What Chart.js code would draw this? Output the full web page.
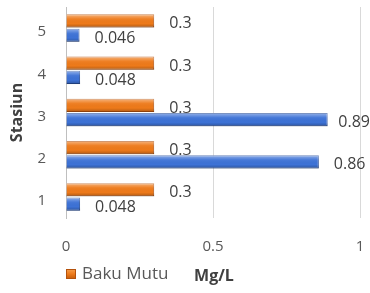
<!DOCTYPE html>
<html>
<head>
<meta charset="utf-8">
<script src="https://cdn.jsdelivr.net/npm/chart.js@4.4.1/dist/chart.umd.min.js"></script>
<style>
  html, body { margin: 0; padding: 0; background: #fff; }
  #wrap { width: 370px; height: 293px; }
</style>
</head>
<body>
<div id="wrap"><canvas id="grafik"></canvas></div>
<script>
// Data
const stasiun = ['1', '2', '3', '4', '5'];
const nilaiSampel = [0.048, 0.86, 0.89, 0.048, 0.046];
const bakuMutu = [0.3, 0.3, 0.3, 0.3, 0.3];
const tickX = [0, 0.5, 1];

const fonte = '"Open Sans", "DejaVu Sans", sans-serif';

// efek kilap (mirip gaya Excel) di atas batang
const kilap = {
  id: 'kilap',
  afterDatasetsDraw(chart) {
    const ctx = chart.ctx;
    ctx.save();
    chart.data.datasets.forEach((ds, i) => {
      chart.getDatasetMeta(i).data.forEach(el => {
        const { x, y, base, height } = el.getProps(['x', 'y', 'base', 'height'], true);
        const top = y - height / 2;
        const g = ctx.createLinearGradient(0, top, 0, top + height);
        g.addColorStop(0, 'rgba(255,255,255,0.45)');
        g.addColorStop(0.35, 'rgba(255,255,255,0.05)');
        g.addColorStop(0.7, 'rgba(0,0,0,0)');
        g.addColorStop(1, 'rgba(0,0,0,0.25)');
        ctx.fillStyle = g;
        ctx.fillRect(base, top, x - base, height);
      });
    });
    ctx.restore();
  }
};

// label nilai di ujung batang
const labelNilai = {
  id: 'labelNilai',
  afterDatasetsDraw(chart) {
    const ctx = chart.ctx;
    ctx.save();
    ctx.font = '16px ' + fonte;
    ctx.fillStyle = '#404040';
    ctx.textBaseline = 'middle';
    chart.data.datasets.forEach((ds, i) => {
      chart.getDatasetMeta(i).data.forEach((el, j) => {
        const txt = String(ds.data[j]);
        const w = ctx.measureText(txt).width;
        const x = Math.min(el.x + 15, chart.width - w);
        ctx.fillText(txt, x, el.y + 3);
      });
    });
    ctx.restore();
  }
};

// legenda + judul sumbu X di baris bawah
const bawah = {
  id: 'bawah',
  afterDraw(chart) {
    const ctx = chart.ctx;
    const y = 274;
    ctx.save();
    const g = ctx.createLinearGradient(0, y - 5, 0, y + 5);
    g.addColorStop(0, '#F5A050');
    g.addColorStop(0.5, '#EE7A1A');
    g.addColorStop(1, '#C05A0A');
    ctx.fillStyle = g;
    ctx.strokeStyle = '#B4520C';
    ctx.fillRect(66, y - 5, 10, 10);
    ctx.strokeRect(66.5, y - 4.5, 9, 9);
    ctx.font = '17px ' + fonte;
    ctx.fillStyle = '#595959';
    ctx.textBaseline = 'middle';
    ctx.fillText(chart.data.datasets[0].label, 82, y);
    ctx.font = 'bold 16px ' + fonte;
    ctx.fillStyle = '#404040';
    ctx.textAlign = 'center';
    ctx.fillText('Mg/L', 214, y + 2);
    ctx.restore();
  }
};

new Chart(document.querySelector('#grafik'), {
  type: 'bar',
  data: {
    labels: stasiun,
    datasets: [{
      label: 'Baku Mutu',
      data: bakuMutu,
      backgroundColor: '#EE7A1A',
      borderColor: '#B4520C',
      borderWidth: 1
    }, {
      label: '',
      data: nilaiSampel,
      backgroundColor: '#3D72D6',
      borderColor: '#284F9C',
      borderWidth: 1
    }]
  },
  options: {
    indexAxis: 'y',
    responsive: true,
    maintainAspectRatio: false,
    animation: false,
    layout: { padding: { top: 7, right: 10, bottom: 35, left: 0 } },
    datasets: { bar: { categoryPercentage: 0.68, barPercentage: 0.92 } },
    plugins: { legend: { display: false }, tooltip: { enabled: false } },
    scales: {
      x: {
        min: 0,
        max: 1,
        afterBuildTicks: s => { s.ticks = tickX.map(v => ({ value: v })); },
        afterFit: s => { s.height = 40; s.paddingLeft = 0; s.paddingRight = 0; },
        grid: { color: '#D9D9D9', drawTicks: false },
        border: { display: false },
        ticks: {
          padding: 20,
          color: '#595959',
          font: { family: fonte, size: 15 },
          callback: v => String(v)
        }
      },
      y: {
        reverse: true,
        afterFit: s => { s.width = 66; s.paddingTop = 0; s.paddingBottom = 0; },
        grid: { display: false, drawTicks: false },
        border: { display: true, color: '#BFBFBF' },
        ticks: {
          padding: 20,
          labelOffset: 4,
          color: '#595959',
          font: { family: fonte, size: 15 }
        },
        title: {
          display: true,
          text: 'Stasiun',
          color: '#404040',
          font: { family: fonte, size: 16, weight: 'bold' },
          padding: { top: 8, bottom: 0 }
        }
      }
    }
  },
  plugins: [kilap, labelNilai, bawah]
});
</script>
</body>
</html>
